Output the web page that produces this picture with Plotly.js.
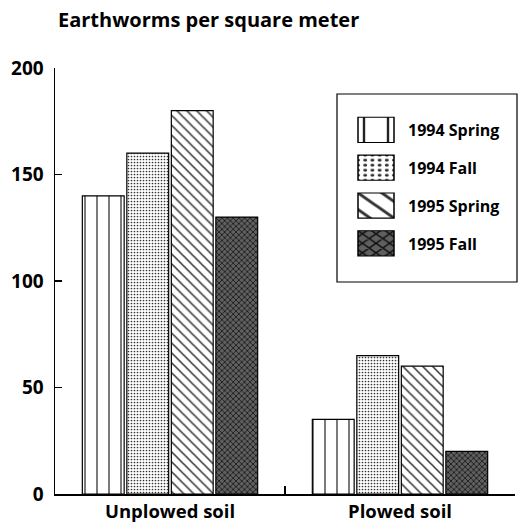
<!DOCTYPE html>
<html>
<head>
<meta charset="utf-8">
<script src="https://cdn.plot.ly/plotly-3.0.1.min.js"></script>
<style>html,body{margin:0;padding:0;background:#fff;}#chart{width:523px;height:523px;}</style>
</head>
<body>
<div id="chart"></div>
<script>
const categories = ["Unplowed soil", "Plowed soil"];
const seriesNames = ["1994 Spring", "1994 Fall", "1995 Spring", "1995 Fall"];
const spring1994 = [140, 35];
const fall1994 = [160, 65];
const spring1995 = [180, 60];
const fall1995 = [130, 20];
const yTickVals = [0, 50, 100, 150, 200];

const FONT = "Open Sans, DejaVu Sans, sans-serif";
const patterns = [
  {shape: "|", bgcolor: "#ffffff", fgcolor: "#222222", size: 12, solidity: 0.1},
  {shape: ".", bgcolor: "#ffffff", fgcolor: "#333333", size: 3, solidity: 0.25},
  {shape: "\\", bgcolor: "#ffffff", fgcolor: "#333333", size: 7, solidity: 0.22},
  {shape: "x", bgcolor: "#606060", fgcolor: "#111111", size: 4, solidity: 0.35}
];
const values = [spring1994, fall1994, spring1995, fall1995];

const traces = values.map((v, i) => ({
  type: "bar",
  name: seriesNames[i],
  x: categories,
  y: v,
  legendgroup: "g" + i,
  marker: {color: patterns[i].bgcolor, line: {color: "#000", width: 1.2}, pattern: patterns[i]},
  hoverinfo: "skip"
}));

const layout = {
  width: 523, height: 523,
  margin: {l: 55, r: 8, t: 68, b: 29, pad: 0},
  paper_bgcolor: "#fff", plot_bgcolor: "#fff",
  font: {family: FONT, color: "#000", size: 16, weight: "bold"},
  title: {
    text: "Earthworms per square meter",
    x: 58 / 523, xanchor: "left", xref: "container",
    y: 1 - 20 / 523, yanchor: "middle", yref: "container",
    font: {family: FONT, size: 20, weight: "bold", color: "#000"}
  },
  barmode: "group",
  bargap: 0.226,
  bargroupgap: 0.06,
  xaxis: {
    type: "category", range: [-0.5, 1.5],
    showline: true, linecolor: "#000", linewidth: 1.5,
    ticks: "inside", tickson: "boundaries", ticklen: 8, tickcolor: "#000", tickwidth: 1.2,
    showgrid: false, zeroline: false,
    tickfont: {family: FONT, size: 18.5, weight: "bold"}
  },
  yaxis: {
    range: [0, 200], tickvals: yTickVals,
    showline: true, linecolor: "#000", linewidth: 1.5,
    ticks: "inside", ticklen: 7, tickcolor: "#000", tickwidth: 1.2,
    showgrid: false, zeroline: false,
    tickfont: {family: FONT, size: 19, weight: "bold"},
    ticklabelstandoff: 6
  },
  showlegend: true,
  legend: {
    x: (337 - 55) / 460, xanchor: "left", xref: "paper",
    y: (494 - 113) / 426, yanchor: "top", yref: "paper",
    bgcolor: "rgba(0,0,0,0)", borderwidth: 0,
    itemwidth: 61, tracegroupgap: 14, traceorder: "grouped",
    font: {family: FONT, size: 16, weight: "bold", color: "#000"}
  },
  shapes: [{
    type: "rect", xref: "paper", yref: "paper",
    x0: (337 - 55) / 460, x1: (517 - 55) / 460,
    y0: (494 - 94) / 426, y1: (494 - 282) / 426,
    line: {color: "#000", width: 1.2}, fillcolor: "rgba(0,0,0,0)", layer: "above"
  }]
};

Plotly.newPlot("chart", traces, layout, {displayModeBar: false, staticPlot: true}).then(gd => {
  gd.querySelectorAll(".legend [clip-path]").forEach(el => el.removeAttribute("clip-path"));
  gd.querySelectorAll(".legend .legendpoints path").forEach(p => {
    p.setAttribute("transform", "translate(39,0) scale(3,2.1)");
    p.style.strokeWidth = "0.5px";
  });
});
</script>
</body>
</html>
